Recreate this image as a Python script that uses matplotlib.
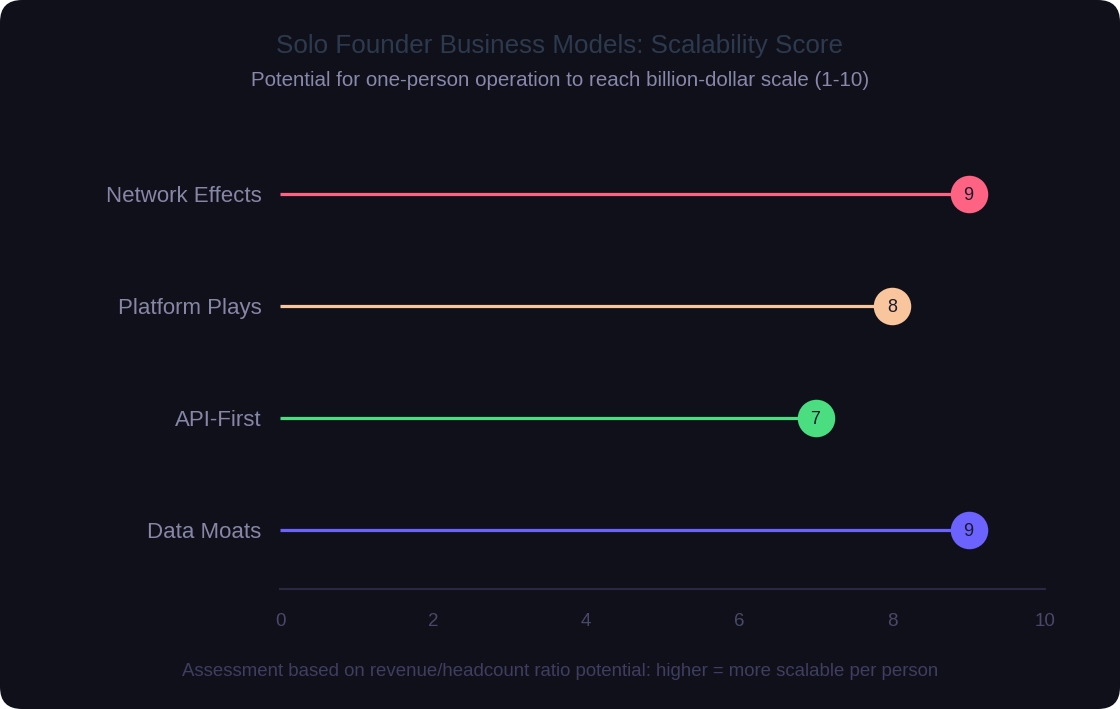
import matplotlib.pyplot as plt
from matplotlib.patches import FancyBboxPatch

# ── Data ───────────────────────────────────────────────────────────────────
categories = ['Data Moats', 'API-First', 'Platform Plays', 'Network Effects']
scores = [9, 7, 8, 9]
colors = ['#6c63ff', '#4ade80', '#f9c59d', '#ff6384']
x_ticks = [0, 2, 4, 6, 8, 10]

BG = '#0f101a'
plt.rcParams['font.family'] = ['Liberation Sans', 'DejaVu Sans']

fig = plt.figure(figsize=(11.2, 7.09), dpi=100)
fig.patch.set_facecolor('white')

# rounded dark card
W, H = 1120, 709
card = FancyBboxPatch((0, 0), 1, 1, boxstyle='round,pad=0,rounding_size=%f' % (22 / W),
                      mutation_aspect=W / H, transform=fig.transFigure,
                      facecolor=BG, edgecolor='none', zorder=-10)
fig.patches.append(card)

# axes box in pixels: x 280..1045, y 140..589
ax = fig.add_axes([280 / W, 1 - 589 / H, (1045 - 280) / W, (589 - 140) / H])
ax.set_facecolor('none')

ypos = list(range(len(categories)))
for y, v, c in zip(ypos, scores, colors):
    ax.plot([0, v], [y, y], color=c, linewidth=2.3, solid_capstyle='butt', zorder=2)
    ax.plot(v, y, 'o', markersize=27, color=c, markeredgewidth=0, zorder=3)
    ax.text(v, y, str(v), ha='center', va='center_baseline', fontsize=13,
            color='#1a1a2e', zorder=4)

ax.set_xlim(0, 10)
ax.set_ylim(-59 / 112, 3 + 54 / 112)
ax.set_yticks(ypos)
ax.set_yticklabels(categories, fontsize=16, color='#8886a6')
ax.set_xticks(x_ticks)
ax.set_xticklabels([str(t) for t in x_ticks], fontsize=13.5, color='#4a4868')
ax.tick_params(axis='y', length=0, pad=13.5)
ax.tick_params(axis='x', length=0, pad=17)
for s in ['top', 'right', 'left']:
    ax.spines[s].set_visible(False)
ax.spines['bottom'].set_color('#2a2842')
ax.spines['bottom'].set_linewidth(1.5)

fig.text(560 / W, 1 - 46 / H, 'Solo Founder Business Models: Scalability Score',
         ha='center', va='center', fontsize=18.7, color='#2d3a4e')
fig.text(560 / W, 1 - 80 / H, 'Potential for one-person operation to reach billion-dollar scale (1-10)',
         ha='center', va='center', fontsize=14.8, color='#8a88aa')
fig.text(560 / W, 1 - 671 / H,
         'Assessment based on revenue/headcount ratio potential: higher = more scalable per person',
         ha='center', va='center', fontsize=13.4, color='#3f3d60')

fig.savefig('out.png', dpi=100, facecolor=fig.get_facecolor())
